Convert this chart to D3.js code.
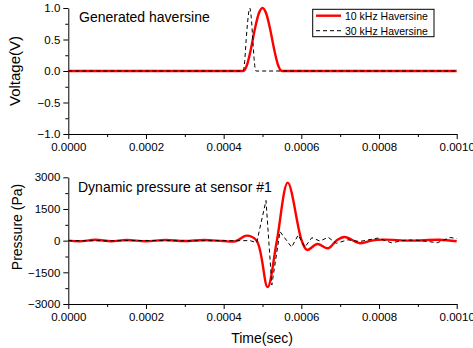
<!DOCTYPE html>
<html>
<head>
<meta charset="utf-8">
<script src="https://cdn.jsdelivr.net/npm/d3@7"></script>
<style>
  body { margin: 0; background: #fff; }
  svg text { font-family: "Liberation Sans", Arial, sans-serif; fill: #000; }
</style>
</head>
<body>
<svg id="chart" width="473" height="348"></svg>
<script>
// --- data (time in s) ---
const xTicks = [0, 0.0002, 0.0004, 0.0006, 0.0008, 0.0010];
const voltTicks = [-1.0, -0.5, 0.0, 0.5, 1.0];
const presTicks = [-3000, -1500, 0, 1500, 3000];

const volt10 = [
    [0, 0], [0.00045, 0], [0.00046, 0.095], [0.00047, 0.345], [0.00048, 0.655],
    [0.00049, 0.905], [0.0005, 1.0], [0.00051, 0.905], [0.00052, 0.655],
    [0.00053, 0.345], [0.00054, 0.095], [0.00055, 0], [0.0010, 0]
];
const volt30 = [
    [0, 0], [0.00045, 0], [0.000454, 0.146], [0.000458, 0.5], [0.000463, 0.854],
    [0.000467, 1.0], [0.000471, 0.854], [0.000475, 0.5], [0.000479, 0.146],
    [0.000483, 0], [0.0010, 0]
];
const pres10 = [
    [0, 0], [0.00003, -30], [0.00007, 40], [0.00011, -30], [0.00015, 30], [0.0002, -30],
    [0.00025, 30], [0.0003, -20], [0.00035, 30], [0.0004, -20], [0.00043, -30],
    [0.000459, 240], [0.000485, 0], [0.000513, -2200], [0.000537, 0], [0.000565, 2750],
    [0.000601, 0], [0.000615, -440], [0.000641, -160], [0.000669, -360], [0.00069, 0],
    [0.000711, 175], [0.000751, -125], [0.00078, 0], [0.000812, 50], [0.00088, 0],
    [0.000955, 40], [0.0010, -30]
];
const pres30 = [
    [0, 0], [0.0001, -10], [0.0002, 10], [0.0003, -10], [0.0004, 0], [0.000468, 0],
    [0.000485, -95], [0.000509, 1900], [0.000524, -2100], [0.000545, 430],
    [0.000575, -310], [0.000592, 270], [0.000609, -310], [0.000627, 140],
    [0.000648, -20], [0.000669, 160], [0.00069, -125], [0.00072, 40], [0.00075, -40],
    [0.000797, 120], [0.000832, -100], [0.00087, 30], [0.0009, 20], [0.00095, -100],
    [0.000983, 150], [0.0010, 100]
];
const legendLabels = ['10 kHz Haversine', '30 kHz Haversine'];

const svg = d3.select('#chart');

const x = d3.scaleLinear().domain([0, 0.001]).range([68.3, 456.7]);
const yV = d3.scaleLinear().domain([-1, 1]).range([134, 8]);
const yP = d3.scaleLinear().domain([-3000, 3000]).range([304, 177.3]);

const drawAxes = (yScale, yTickVals, yMinor, yFmt, yBase) => {
    // bottom axis, major + minor ticks
    const gx = svg.append('g').attr('transform', `translate(0,${yBase})`);
    gx.call(d3.axisBottom(x).tickValues(xTicks).tickFormat(d3.format('.4f'))
        .tickSize(5).tickSizeOuter(0).tickPadding(4));
    gx.append('g').call(d3.axisBottom(x).tickValues(d3.range(0.0001, 0.001, 0.0002))
        .tickSize(3).tickFormat('')).select('.domain').remove();

    const gy = svg.append('g').attr('transform', `translate(${x.range()[0]},0)`);
    gy.call(d3.axisLeft(yScale).tickValues(yTickVals).tickFormat(yFmt)
        .tickSize(5).tickSizeOuter(0).tickPadding(3));
    gy.append('g').call(d3.axisLeft(yScale).tickValues(yMinor)
        .tickSize(3).tickFormat('')).select('.domain').remove();

    svg.selectAll('.tick text').attr('font-size', '11.5px')
        .attr('font-family', '"Liberation Sans", Arial, sans-serif');
    svg.selectAll('.domain, .tick line').attr('stroke', '#000');
};

drawAxes(yV, voltTicks, [-0.75, -0.25, 0.25, 0.75], d3.format('.1f'), 134);
drawAxes(yP, presTicks, [-2250, -750, 750, 2250], d3.format('d'), 304);

const lineV = d3.line().x(d => x(d[0])).y(d => yV(d[1])).curve(d3.curveMonotoneX);
const lineP = d3.line().x(d => x(d[0])).y(d => yP(d[1])).curve(d3.curveCatmullRom);
const lineP30 = d3.line().x(d => x(d[0])).y(d => yP(d[1]));

svg.append('path').attr('d', lineV(volt10)).attr('fill', 'none')
    .attr('stroke', '#ff0000').attr('stroke-width', 2.4);
svg.append('path').attr('d', lineV(volt30)).attr('fill', 'none')
    .attr('stroke', '#000').attr('stroke-width', 1).attr('stroke-dasharray', '4,3');

svg.append('path').attr('d', lineP(pres10)).attr('fill', 'none')
    .attr('stroke', '#ff0000').attr('stroke-width', 2.4);
svg.append('path').attr('d', lineP30(pres30)).attr('fill', 'none')
    .attr('stroke', '#000').attr('stroke-width', 1).attr('stroke-dasharray', '4,3');

// titles
svg.append('text').attr('x', 79).attr('y', 22).attr('font-size', '14px').text('Generated haversine');
svg.append('text').attr('x', 78).attr('y', 192).attr('font-size', '14px').text('Dynamic pressure at sensor #1');
svg.append('text').attr('transform', 'translate(20,71) rotate(-90)').attr('text-anchor', 'middle')
    .attr('font-size', '15px').text('Voltage(V)');
svg.append('text').attr('transform', 'translate(22,227) rotate(-90)').attr('text-anchor', 'middle')
    .attr('font-size', '14px').text('Pressure (Pa)');
svg.append('text').attr('x', 262).attr('y', 343).attr('text-anchor', 'middle')
    .attr('font-size', '14px').text('Time(sec)');

// legend
const lg = svg.append('g');
lg.append('rect').attr('x', 312.7).attr('y', 9.3).attr('width', 121.3).attr('height', 27.4)
    .attr('fill', '#fff').attr('stroke', '#000').attr('stroke-width', 1);
legendLabels.forEach((t, i) => {
    const yy = 15.7 + i * 15;
    lg.append('line').attr('x1', 316).attr('x2', 341).attr('y1', yy).attr('y2', yy)
        .attr('stroke', i === 0 ? '#ff0000' : '#000')
        .attr('stroke-width', i === 0 ? 2.4 : 1)
        .attr('stroke-dasharray', i === 0 ? null : '4,3');
    lg.append('text').attr('x', 345).attr('y', yy + 4).attr('font-size', '10.5px').text(t);
});
</script>
</body>
</html>
